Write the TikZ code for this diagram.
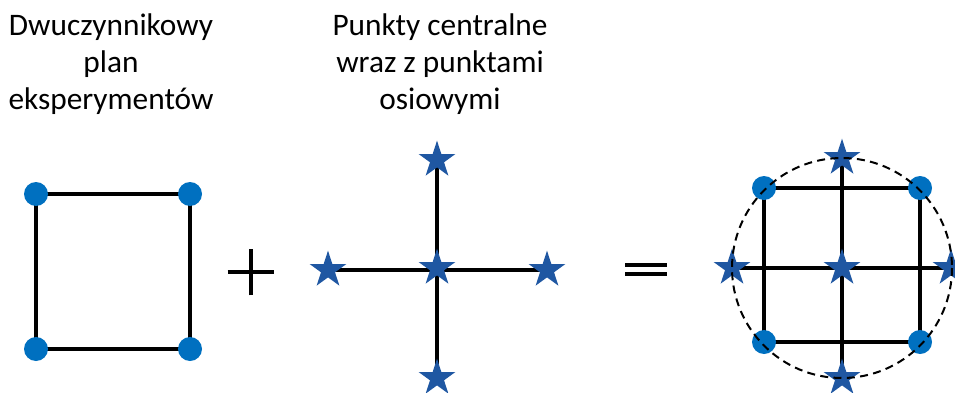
\documentclass[tikz,border=0pt]{standalone}
\usepackage{fontspec}
\setmainfont{Carlito}
\usetikzlibrary{shapes.geometric}
\definecolor{dotblue}{RGB}{0,112,192}
\definecolor{starblue}{RGB}{31,87,162}
\tikzset{
  pt/.style={circle, fill=dotblue, inner sep=0pt, minimum size=18pt},
  axstar/.style={star, star points=5, star point ratio=2.618, fill=starblue,
    inner sep=0pt, minimum size=29pt},
  edge/.style={line width=2.5pt, black},
  ring/.style={line width=1.5pt, dash pattern=on 6pt off 4pt},
  lbl/.style={font=\fontsize{23.5}{27.75}\selectfont, align=center, inner sep=0pt},
  opbar/.style={line width=3pt, black}
}
\begin{document}
\begin{tikzpicture}[x=0.75pt,y=-0.75pt]
\useasboundingbox (0,0) rectangle (955,392);

% captions (anchored at the baseline of their last line)
\node[lbl, anchor=base] (capA) at (111,110) {Dwuczynnikowy\\plan\\eksperymentów};
\node[lbl, anchor=base] (capB) at (440,110) {Punkty centralne\\wraz z punktami\\osiowymi};

% two-factor design: square with corner points
\coordinate (a1) at (36,194);
\coordinate (a2) at (190,194);
\coordinate (a3) at (190,349);
\coordinate (a4) at (36,349);
\draw[edge] (a1) -- (a2) -- (a3) -- (a4) -- cycle;
\foreach \c in {a1,a2,a3,a4} \node[pt] (d\c) at (\c) {};

% plus sign
\coordinate (plus) at (251,272);
\draw[opbar] ([xshift=-17.5]plus) -- ([xshift=17.5]plus);
\draw[opbar] ([yshift=-17.5]plus) -- ([yshift=17.5]plus);

% centre and axial points
\coordinate (bc) at (437,268);
\coordinate (bt) at (437,160);
\coordinate (bb) at (437,378);
\coordinate (bl) at (328,270);
\coordinate (br) at (547,270);
\draw[edge] (bt) -- (bb);
\draw[edge] (bl) -- (br);
\foreach \c in {bc,bt,bb,bl,br} \node[axstar] (s\c) at (\c) {};

% equals sign
\coordinate (eq) at (646,269.5);
\draw[opbar] ([shift={(-21,-4.5)}]eq) -- ([shift={(21,-4.5)}]eq);
\draw[opbar] ([shift={(-21,4.5)}]eq) -- ([shift={(21,4.5)}]eq);

% combined design
\coordinate (cc) at (842,268);
\coordinate (c1) at (764,188);
\coordinate (c2) at (920,188);
\coordinate (c3) at (920,342);
\coordinate (c4) at (764,342);
\coordinate (ct) at (842,158);
\coordinate (cb) at (842,378);
\coordinate (cl) at (732,268);
\coordinate (cr) at (951,268);
\draw[edge] (c1) -- (c2) -- (c3) -- (c4) -- cycle;
\draw[edge] (ct) -- (cb);
\draw[edge] (cl) -- (cr);
\foreach \c in {c1,c2,c3,c4} \node[pt] (d\c) at (\c) {};
\foreach \c in {cc,ct,cb,cl,cr} \node[axstar] (s\c) at (\c) {};
\draw[ring] (cc) circle [radius=110];
\end{tikzpicture}
\end{document}
